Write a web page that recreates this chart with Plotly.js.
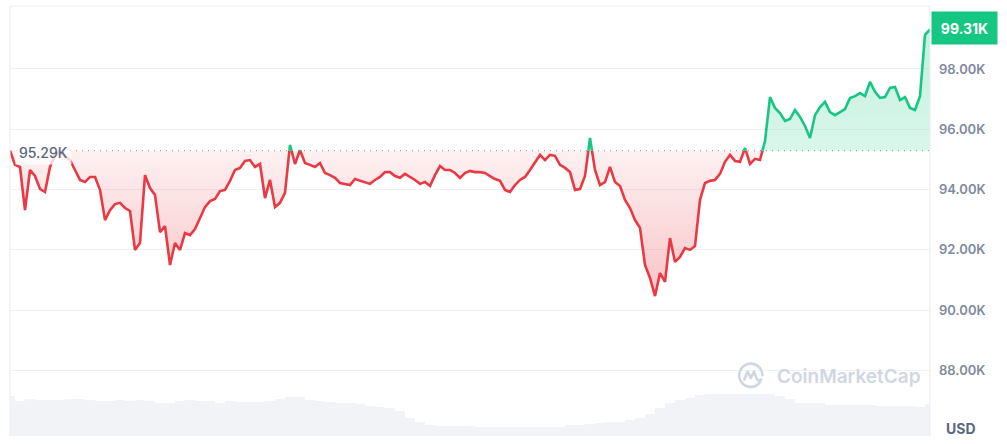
<!DOCTYPE html>
<html><head><meta charset="utf-8">
<script src="https://cdn.plot.ly/plotly-3.0.1.min.js"></script>
<style>html,body{margin:0;padding:0;background:#fff;}#chart{width:1007px;height:444px;}</style>
</head><body><div id="chart"></div>
<script>
// ---- data ----
const baseline = 95290;          // reference price (dotted line)
const baselineLabel = '95.29K';
const lastLabel = '99.31K';
const currency = 'USD';
const watermark = 'CoinMarketCap';

// price, one reading per equal time step along the chart
const prices = [
  95300, 94820, 94750, 93320, 94650, 94450, 94020, 93920, 94750, 95150,
  95250, 95120, 94980, 94650, 94320, 94250, 94420, 94420, 93990, 92990,
  93320, 93520, 93560, 93390, 93290, 92000, 92230, 94480, 94050, 93820,
  92590, 92790, 91500, 92230, 92000, 92560, 92490, 92690, 93060, 93420,
  93620, 93690, 93950, 93990, 94290, 94650, 94720, 94950, 94980, 94750,
  94850, 93720, 94320, 93420, 93560, 93890, 95480, 94850, 95310, 94880,
  94820, 94750, 94880, 94550, 94480, 94390, 94220, 94190, 94150, 94350,
  94290, 94250, 94190, 94320, 94420, 94580, 94580, 94450, 94390, 94520,
  94420, 94320, 94190, 94250, 94120, 94480, 94780, 94650, 94650, 94550,
  94390, 94550, 94620, 94580, 94580, 94550, 94450, 94350, 94290, 93990,
  93920, 94150, 94320, 94420, 94650, 94920, 95150, 94980, 95150, 95120,
  94820, 94720, 94580, 93990, 94020, 94450, 95710, 94650, 94150, 94250,
  94750, 94250, 94120, 93660, 93390, 92990, 92730, 91500, 91070, 90470,
  91230, 90940, 92390, 91600, 91770, 92060, 92000, 92130, 93660, 94220,
  94290, 94320, 94520, 94920, 95150, 94950, 94920, 95380, 94850, 95020,
  94980, 95610, 97070, 96710, 96540, 96280, 96340, 96640, 96410, 96110,
  95710, 96470, 96740, 96910, 96570, 96470, 96570, 96670, 97040, 97100,
  97200, 97100, 97570, 97240, 97040, 97070, 97370, 97400, 96970, 97070,
  96710, 96640, 97100, 99130, 99310
];

// volume (billions USD), one bar per two price steps
const volumes = [
  40.5, 35.5, 37.3, 36.5, 36, 36.5, 37, 37, 36, 35,
  35, 36, 35, 36, 35, 33.5, 33.5, 35, 36, 35.5,
  35, 33.5, 35, 34, 34, 34, 35, 37.5, 39, 39,
  36.5, 35, 34.5, 33.5, 32.7, 32, 30.5, 29, 28.3, 25,
  18, 14, 10.7, 10, 10, 10, 10, 9, 9, 9,
  9, 9, 9, 9, 9, 9, 10.7, 11.5, 12.5, 13,
  14, 14.5, 16, 17.7, 22, 28, 33, 35.7, 38, 41,
  41.7, 41.7, 41.7, 41.7, 41.7, 41.7, 41.7, 40, 37, 33.3,
  33, 32.7, 31.5, 31, 31, 31, 31, 30.5, 30.5, 30.5,
  30, 29, 31.7
];

const yTickVals = [88000, 90000, 92000, 94000, 96000, 98000];
const yTickText = ['88.00K', '90.00K', '92.00K', '94.00K', '96.00K', '98.00K'];

// ---- build traces ----
const GREEN = '#16c784', RED = '#ea3943';
const xs = [], ys = [];
for (let i = 0; i < prices.length; i++) {
  xs.push(i); ys.push(prices[i]);
  if (i < prices.length - 1) {
    const a = prices[i] - baseline, b = prices[i + 1] - baseline;
    if (a * b < 0) { const t = a / (a - b); xs.push(i + t); ys.push(baseline); }
  }
}
const greenY = ys.map(v => v >= baseline ? v : null);
const redY = ys.map(v => v <= baseline ? v : null);
const upFill = ys.map(v => Math.max(v, baseline));
const dnFill = ys.map(v => Math.min(v, baseline));
const baseArr = ys.map(() => baseline);
const volX = volumes.map((_, k) => k * 2);
const nLast = prices.length - 1;

const traces = [
  {x: volX, y: volumes, type: 'bar', yaxis: 'y2', width: 1.85,
   marker: {color: '#f1f3f6', line: {width: 0}}, showlegend: false},
  {x: xs, y: baseArr, mode: 'lines', line: {width: 0}, hoverinfo: 'skip', showlegend: false},
  {x: xs, y: upFill, mode: 'lines', line: {width: 0}, fill: 'tonexty',
   fillcolor: 'rgba(22,199,132,0.2)',
   fillgradient: {type: 'vertical', start: baseline, stop: 99400,
     colorscale: [[0, 'rgba(22,199,132,0.16)'], [1, 'rgba(22,199,132,0.26)']]},
   hoverinfo: 'skip', showlegend: false},
  {x: xs, y: baseArr, mode: 'lines', line: {width: 0}, hoverinfo: 'skip', showlegend: false},
  {x: xs, y: dnFill, mode: 'lines', line: {width: 0}, fill: 'tonexty',
   fillcolor: 'rgba(234,57,67,0.12)',
   fillgradient: {type: 'vertical', start: 90400, stop: baseline,
     colorscale: [[0, 'rgba(234,57,67,0.30)'], [1, 'rgba(234,57,67,0.07)']]},
   hoverinfo: 'skip', showlegend: false},
  {x: xs, y: redY, mode: 'lines', line: {color: RED, width: 2.6}, connectgaps: false, showlegend: false},
  {x: xs, y: greenY, mode: 'lines', line: {color: GREEN, width: 2.6}, connectgaps: false, showlegend: false}
];

const FONT = 'Inter, "Noto Sans", "DejaVu Sans", sans-serif';
const logoSvg = "<svg xmlns='http://www.w3.org/2000/svg' viewBox='0 0 28 28'>" +
  "<path d='M23.2 21.2 A11.6 11.6 0 1 1 25.6 14' fill='none' stroke='#d1d7e0' stroke-width='2.6' stroke-linecap='round'/>" +
  "<path d='M7.5 18.5 L10.8 10.5 L14 17 L17.3 10.5 L20 17.5 Q21.5 20.5 24.5 18.5' fill='none' stroke='#d1d7e0' stroke-width='2.6' stroke-linecap='round' stroke-linejoin='round'/></svg>";

const layout = {
  width: 1007, height: 444,
  margin: {l: 10, r: 77, t: 6, b: 8, pad: 0},
  paper_bgcolor: '#fff', plot_bgcolor: '#fff',
  font: {family: FONT},
  showlegend: false,
  bargap: 0,
  xaxis: {range: [0, nLast], visible: false, fixedrange: true},
  yaxis: {
    range: [85828, 100089], side: 'right',
    tickvals: yTickVals, ticktext: yTickText,
    tickfont: {family: FONT, size: 13, color: '#808a9d', weight: 600},
    ticks: '', ticklabelstandoff: 8,
    gridcolor: '#eff2f5', gridwidth: 1, zeroline: false, showline: false, fixedrange: true
  },
  yaxis2: {overlaying: 'y', range: [0, 430], visible: false, fixedrange: true},
  shapes: [
    {type: 'line', xref: 'x', yref: 'y', x0: 0, x1: nLast, y0: baseline, y1: baseline,
     line: {color: '#8c8f96', width: 1, dash: '1px,5px'}, layer: 'below'},
    {type: 'line', xref: 'paper', yref: 'paper', x0: 0, x1: 0, y0: 0, y1: 1, line: {color: '#eaedf1', width: 1}},
    {type: 'line', xref: 'paper', yref: 'paper', x0: 1, x1: 1, y0: 0, y1: 1, line: {color: '#eaedf1', width: 1}},
    {type: 'line', xref: 'paper', yref: 'paper', x0: 0, x1: 1, y0: 1, y1: 1, line: {color: '#eaedf1', width: 1}}
  ],
  images: [{
    source: 'data:image/svg+xml;utf8,' + encodeURIComponent(logoSvg),
    xref: 'paper', yref: 'paper', x: 0.790, y: 0.174, sizex: 0.0304, sizey: 0.065,
    xanchor: 'left', yanchor: 'top', sizing: 'contain', layer: 'above'
  }],
  annotations: [
    {xref: 'x', yref: 'y', x: 0, y: baseline, xanchor: 'left', yanchor: 'middle',
     xshift: 5, yshift: -2, text: baselineLabel, showarrow: false,
     font: {family: FONT, size: 14, color: '#58667e', weight: 500},
     bgcolor: 'rgba(255,255,255,0.78)', borderpad: 3},
    {xref: 'paper', yref: 'y', x: 1, y: prices[nLast], xanchor: 'left', yanchor: 'middle',
     xshift: 1, yshift: 1, text: lastLabel, showarrow: false, width: 63, height: 30,
     font: {family: FONT, size: 14, color: '#ffffff', weight: 700},
     bgcolor: GREEN},
    {xref: 'paper', yref: 'paper', x: 0.8315, y: 0.1384, xanchor: 'left', yanchor: 'middle',
     text: watermark, showarrow: false,
     font: {family: FONT, size: 19, color: '#d1d7e0', weight: 600}},
    {xref: 'paper', yref: 'paper', x: 1, y: 0, xanchor: 'left', yanchor: 'middle',
     xshift: 14, yshift: 8, text: currency, showarrow: false,
     font: {family: FONT, size: 14, color: '#58667e', weight: 700}}
  ]
};

Plotly.newPlot('chart', traces, layout, {staticPlot: true, displayModeBar: false});
</script>
</body></html>
